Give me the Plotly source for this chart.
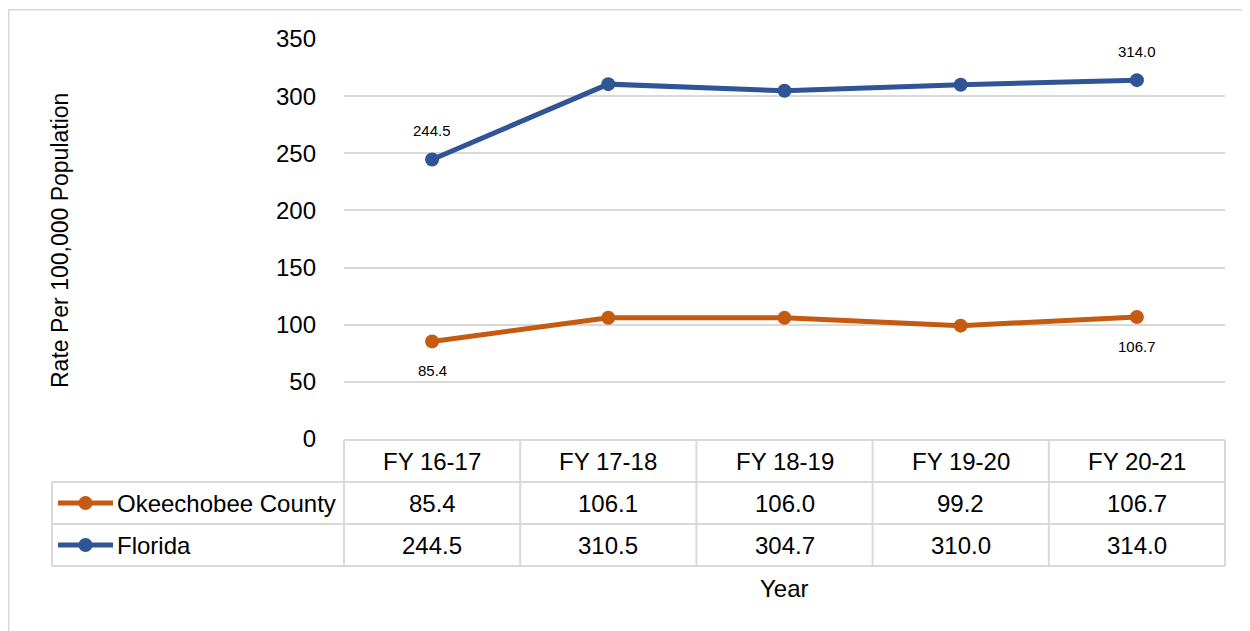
import plotly.graph_objects as go

# page body adds an 8px offset, so the figure is 8px smaller and coordinates shift
OFF = 8
W, H = 1250 - OFF, 631 - OFF

years = ["FY 16-17", "FY 17-18", "FY 18-19", "FY 19-20", "FY 20-21"]
okeechobee = [85.4, 106.1, 106.0, 99.2, 106.7]
florida = [244.5, 310.5, 304.7, 310.0, 314.0]
y_ticks = [0, 50, 100, 150, 200, 250, 300, 350]

ORANGE = "#C55A11"
BLUE = "#2F5597"
GRID = "#D9D9D9"
FONT = "Liberation Sans, Arial"


def px(x):
    return (x - OFF) / W


def py(y):
    return 1 - (y - OFF) / H


def note(x, y, text, font, xanchor="center", **kw):
    fig.add_annotation(x=px(x), y=py(y), xref="paper", yref="paper", text=text,
                       showarrow=False, xanchor=xanchor, yanchor="middle", font=font, **kw)


# plot area in reference pixels
X0, X1 = 344, 1225
Y_TOP, Y_ZERO = 39, 439

fig = go.Figure()

fig.add_trace(go.Scatter(
    x=years, y=okeechobee, name="Okeechobee County", mode="lines+markers",
    line=dict(color=ORANGE, width=5), marker=dict(size=14, color=ORANGE)))
fig.add_trace(go.Scatter(
    x=years, y=florida, name="Florida", mode="lines+markers",
    line=dict(color=BLUE, width=5), marker=dict(size=14, color=BLUE)))

# data labels on first and last points
for yr, v, shift in [(years[0], florida[0], 29), (years[-1], florida[-1], 29),
                     (years[0], okeechobee[0], -29), (years[-1], okeechobee[-1], -29)]:
    fig.add_annotation(x=yr, y=v, text=f"{v:.1f}", showarrow=False,
                       xanchor="center", yanchor="middle",
                       yshift=shift, font=dict(size=15, color="#000", family=FONT))

shapes = []
# outer frame
shapes.append(dict(type="rect", xref="paper", yref="paper",
                   x0=px(8.75), x1=px(1270), y0=py(680), y1=py(9.75),
                   line=dict(color=GRID, width=1.5)))

# data table
col_w = (X1 - X0) / len(years)
row_tops = [440, 482, 524, 566]
LEFT = 52
shapes.append(dict(type="line", xref="paper", yref="paper", x0=px(X0), x1=px(X1),
                   y0=py(row_tops[0]), y1=py(row_tops[0]), line=dict(color=GRID, width=2)))
for r in row_tops[1:]:
    shapes.append(dict(type="line", xref="paper", yref="paper", x0=px(LEFT), x1=px(X1),
                       y0=py(r), y1=py(r), line=dict(color=GRID, width=2)))
shapes.append(dict(type="line", xref="paper", yref="paper", x0=px(LEFT), x1=px(LEFT),
                   y0=py(row_tops[1]), y1=py(row_tops[3]), line=dict(color=GRID, width=2)))
for i in range(len(years) + 1):
    xx = X0 + i * col_w
    shapes.append(dict(type="line", xref="paper", yref="paper", x0=px(xx), x1=px(xx),
                       y0=py(row_tops[0]), y1=py(row_tops[3]), line=dict(color=GRID, width=2)))

TFONT = dict(size=24, color="#000", family=FONT)
for i, yr in enumerate(years):
    cx = X0 + (i + 0.5) * col_w
    note(cx, (row_tops[0] + row_tops[1]) / 2, yr, TFONT)
    note(cx, (row_tops[1] + row_tops[2]) / 2, f"{okeechobee[i]:.1f}", TFONT)
    note(cx, (row_tops[2] + row_tops[3]) / 2, f"{florida[i]:.1f}", TFONT)

# legend keys inside the table
for name, color, r in [("Okeechobee County", ORANGE, 1), ("Florida", BLUE, 2)]:
    yc = (row_tops[r] + row_tops[r + 1]) / 2
    shapes.append(dict(type="line", xref="paper", yref="paper", x0=px(58), x1=px(113),
                       y0=py(yc), y1=py(yc), line=dict(color=color, width=5)))
    shapes.append(dict(type="circle", xref="paper", yref="paper", x0=px(78.5), x1=px(92.5),
                       y0=py(yc + 7), y1=py(yc - 7), fillcolor=color, line=dict(color=color, width=0)))
    note(115, yc, name, TFONT, xanchor="left")

# axis titles
note(784, 588, "Year", TFONT)
note(60, 241, "Rate Per 100,000 Population", dict(size=23, color="#000", family=FONT),
     textangle=-90)

fig.update_layout(
    width=W, height=H,
    margin=dict(l=0, r=0, t=0, b=0, pad=0),
    paper_bgcolor="white", plot_bgcolor="white",
    showlegend=False,
    shapes=shapes,
    font=dict(family=FONT, color="#000"),
)

fig.update_xaxes(domain=[px(X0), px(X1)], showticklabels=False, showgrid=False,
                 zeroline=False, showline=False, range=[-0.5, 4.5], fixedrange=True,
                 automargin=False)
fig.update_yaxes(domain=[py(Y_ZERO), py(Y_TOP)], range=[0, 350], tickvals=y_ticks,
                 showgrid=True, gridcolor=GRID, gridwidth=1.5, zeroline=False,
                 showline=False, ticks="", ticklabelstandoff=27, automargin=False,
                 tickfont=dict(size=24, color="#000", family=FONT), fixedrange=True)

fig.write_html("out.html")
